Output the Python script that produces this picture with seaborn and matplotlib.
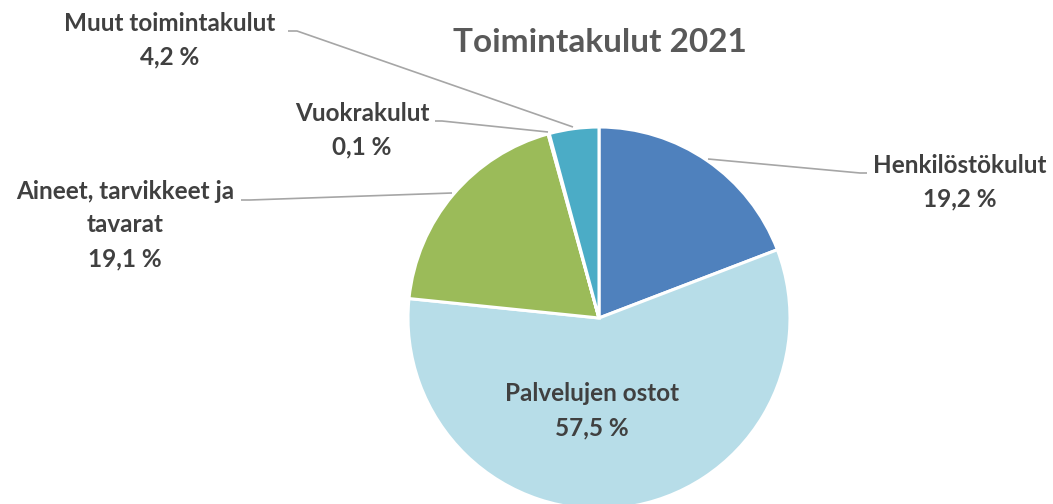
import matplotlib
matplotlib.use("Agg")
import matplotlib.pyplot as plt
import seaborn as sns

sns.set_theme(style="white")
plt.rcParams['font.family'] = ['Lato', 'DejaVu Sans']

categories = ["Henkilöstökulut", "Palvelujen ostot", "Aineet, tarvikkeet ja\ntavarat",
              "Vuokrakulut", "Muut toimintakulut"]
shares = [19.2, 57.5, 19.1, 0.1, 4.2]
colors = ["#4F81BD", "#B7DDE8", "#9BBB59", "#8064A2", "#4BACC6"]
title = "Toimintakulut 2021"

W, H = 1053, 504
fig = plt.figure(figsize=(W / 100, H / 100), dpi=100)
ax = fig.add_axes([0, 0, 1, 1])

cx, cy, r = 599, H - 318, 191
ax.pie(shares, colors=colors, startangle=90, counterclock=False,
       center=(cx, cy), radius=r, frame=True,
       wedgeprops=dict(edgecolor="white", linewidth=2.2))
ax.set_xlim(0, W)
ax.set_ylim(0, H)
ax.set_aspect("equal")
ax.axis("off")

txt = "#404040"
lc = "#A6A6A6"


def pct(v):
    return f"{v:.1f} %".replace(".", ",")


# label positions (pixel coords, y from top) and leader lines
labels = {
    0: dict(pos=(960, 182), line=[(708, 159), (860, 173), (867, 173)]),
    2: dict(pos=(125, 225), line=[(452, 193), (250, 200), (241, 200)]),
    3: dict(pos=(362, 130), line=[(548, 132), (442, 121), (435, 121)]),
    4: dict(pos=(170, 40), line=[(573, 127), (297, 31), (288, 31)]),
}
for i, d in labels.items():
    xs = [p[0] for p in d["line"]]
    ys = [H - p[1] for p in d["line"]]
    ax.plot(xs, ys, color=lc, lw=1.2, solid_capstyle="butt")
    ax.text(d["pos"][0], H - d["pos"][1], f"{categories[i]}\n{pct(shares[i])}",
            ha="center", va="center", fontsize=17.5, fontweight="bold",
            color=txt, linespacing=1.55)

ax.text(592, H - 411, f"{categories[1]}\n{pct(shares[1])}", ha="center", va="center",
        fontsize=17.5, fontweight="bold", color=txt, linespacing=1.6)

ax.text(600, H - 43, title, ha="center", va="center", fontsize=24,
        fontweight="bold", color="#595959")

fig.savefig("out.png", dpi=100, facecolor="white")
